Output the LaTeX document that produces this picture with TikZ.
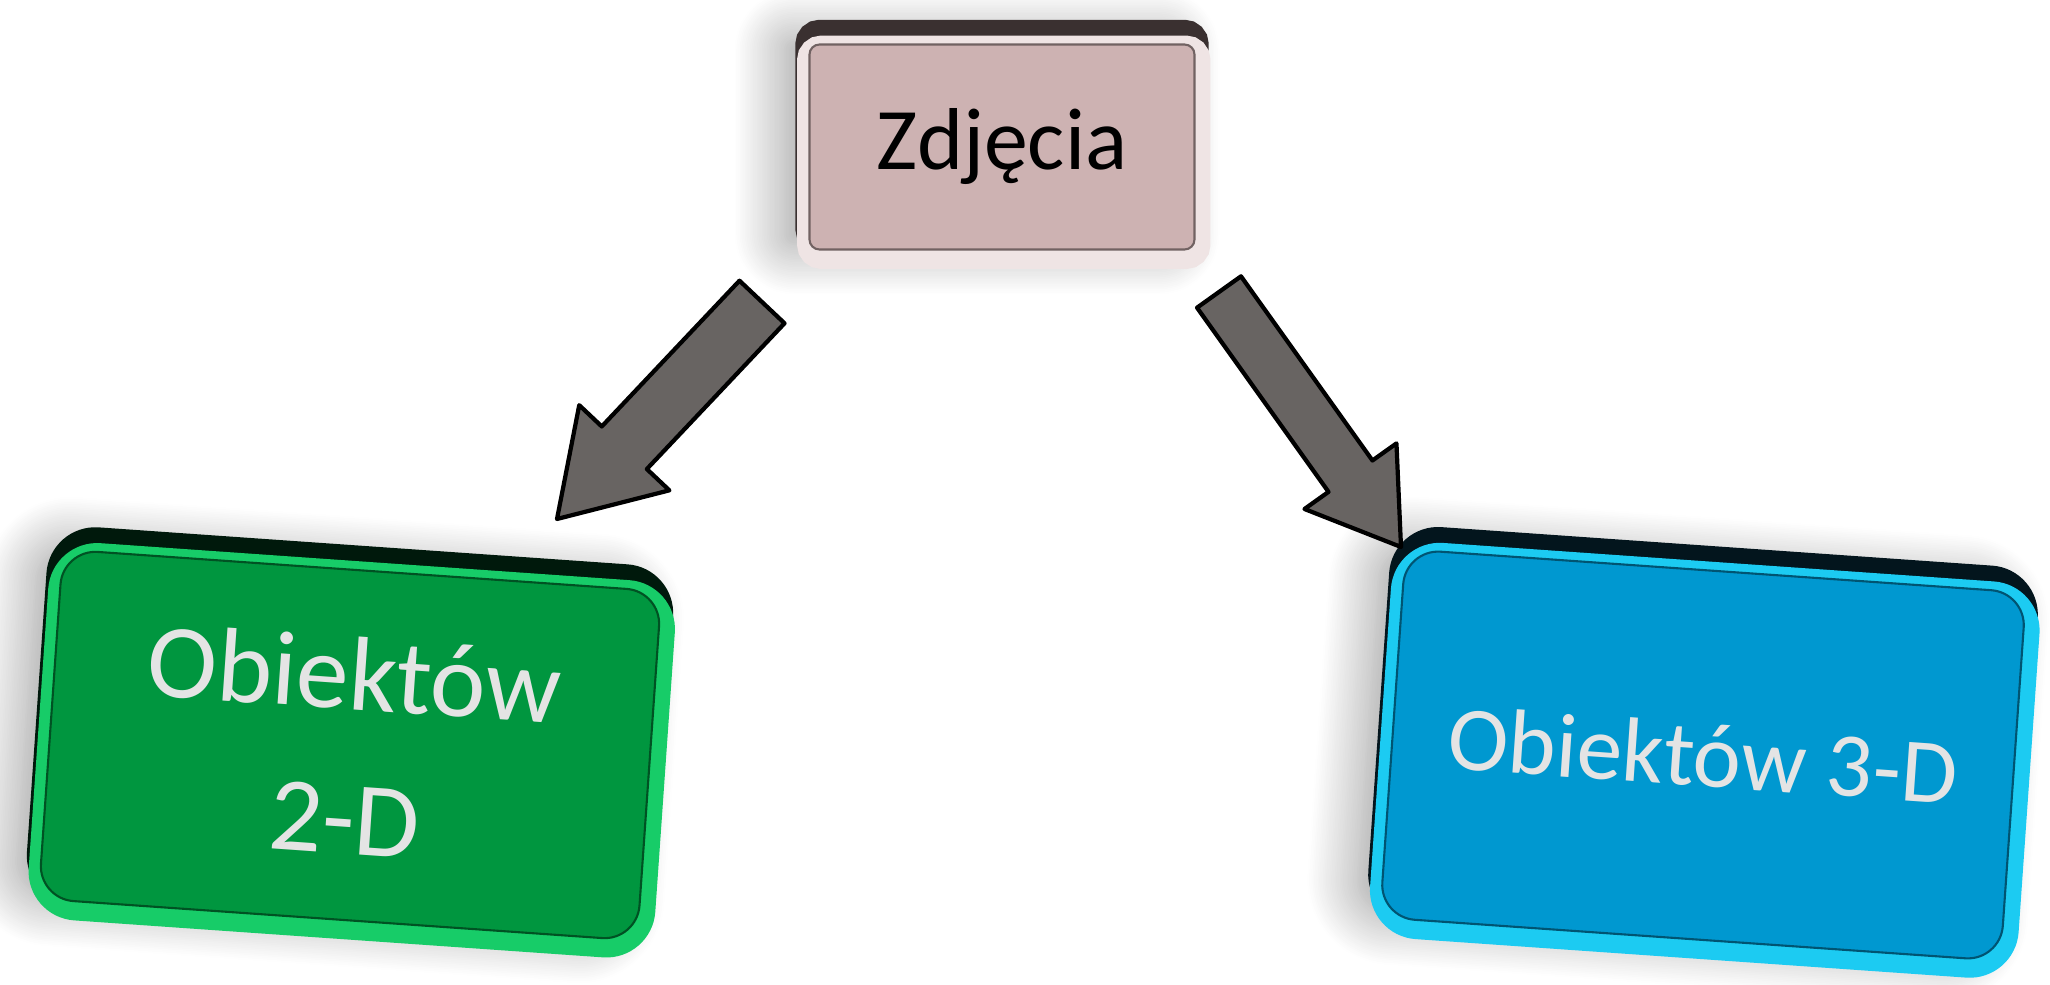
\documentclass[tikz,border=0pt]{standalone}
\usepackage{xcolor}
\usepackage{fontspec}
\setmainfont{Carlito}
\usepackage{tikz}
\usetikzlibrary{shapes,arrows,positioning,calc,shadows.blur}

\definecolor{pinkface}{HTML}{CDB2B2}
\definecolor{pinkdark}{HTML}{3A3030}
\definecolor{pinklight}{HTML}{EFE4E4}
\definecolor{greenface}{HTML}{00963F}
\definecolor{greendark}{HTML}{00190C}
\definecolor{greenlight}{HTML}{17CC68}
\definecolor{blueface}{HTML}{0098D0}
\definecolor{bluedark}{HTML}{03151D}
\definecolor{bluelight}{HTML}{1CCBF2}
\definecolor{arrowgray}{HTML}{686462}
\definecolor{labelgray}{HTML}{E4E4E4}

\tikzset{
  tile/.style n args={3}{rectangle, rounded corners=3.5mm, fill=#1, draw=#1!55!black, line width=0.6pt,
    blur shadow={shadow xshift=-2.5mm, shadow yshift=0.5mm, shadow blur radius=5mm, shadow blur steps=30, shadow opacity=40},
    preaction={draw=#2, line width=8pt, transform canvas={yshift=3pt}},
    preaction={draw=#3, line width=8pt, transform canvas={shift={(0.5pt,-1.5pt)}}}},
  blockarrow/.style={fill=arrowgray, draw=black, line width=1.2pt, line join=round}
}

\begin{document}
\begin{tikzpicture}
    \useasboundingbox (0,0) rectangle (20.5,9.84);

    \node (zdjecia) [tile={pinkface}{pinkdark}{pinklight}, rounded corners=1mm, minimum width=3.85cm, minimum height=2.05cm, font=\fontsize{25}{30}\selectfont] at (10.02,8.37) {Zdjęcia};
    \node (obj2d) [tile={greenface}{greendark}{greenlight}, rotate=-4, minimum width=6cm, minimum height=3.5cm, text=labelgray, align=center, font=\fontsize{30}{41}\selectfont] at (3.50,2.39) {Obiektów\\2-D};
    \node (obj3d) [tile={blueface}{bluedark}{bluelight}, rotate=-4, minimum width=6.22cm, minimum height=3.69cm, text=labelgray, font=\fontsize{26}{31}\selectfont] at (17.03,2.29) {Obiektów 3-D};

    % arrow to the left box
    \coordinate (ltail) at (7.62,6.82);
    \coordinate (ltip) at (5.57,4.65);
    \coordinate (lneck) at ($(ltip)!0.98cm!(ltail)$);
    \draw [blockarrow] ($(ltail)!0.31cm!90:(ltip)$) -- ($(lneck)!0.31cm!-90:(ltail)$) -- ($(lneck)!0.62cm!-90:(ltail)$) -- (ltip)
        -- ($(lneck)!0.62cm!90:(ltail)$) -- ($(lneck)!0.31cm!90:(ltail)$) -- ($(ltail)!0.31cm!-90:(ltip)$) -- cycle;

    % arrow to the right box
    \coordinate (rtail) at (12.19,6.92);
    \coordinate (rtip) at (14.01,4.37);
    \coordinate (rneck) at ($(rtip)!0.87cm!(rtail)$);
    \draw [blockarrow] ($(rtail)!0.27cm!90:(rtip)$) -- ($(rneck)!0.27cm!-90:(rtail)$) -- ($(rneck)!0.565cm!-90:(rtail)$) -- (rtip)
        -- ($(rneck)!0.565cm!90:(rtail)$) -- ($(rneck)!0.27cm!90:(rtail)$) -- ($(rtail)!0.27cm!-90:(rtip)$) -- cycle;
\end{tikzpicture}
\end{document}
